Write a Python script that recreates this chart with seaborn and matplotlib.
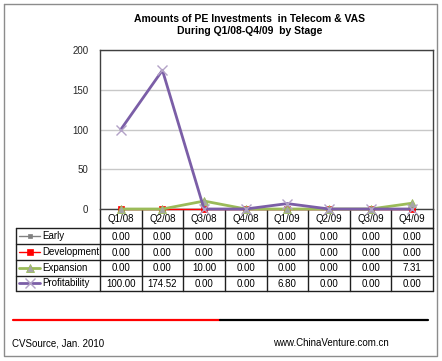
import matplotlib
matplotlib.use("Agg")
import matplotlib.pyplot as plt
import seaborn as sns
import numpy as np
from matplotlib.lines import Line2D

sns.set_theme(style="white")
plt.rcParams['font.family'] = ['Liberation Sans', 'DejaVu Sans']

categories = ["Q1/08", "Q2/08", "Q3/08", "Q4/08", "Q1/09", "Q2/09", "Q3/09", "Q4/09"]
series_names = ["Early", "Development", "Expansion", "Profitability"]
early = [0.00, 0.00, 0.00, 0.00, 0.00, 0.00, 0.00, 0.00]
development = [0.00, 0.00, 0.00, 0.00, 0.00, 0.00, 0.00, 0.00]
expansion = [0.00, 0.00, 10.00, 0.00, 0.00, 0.00, 0.00, 7.31]
profitability = [100.00, 174.52, 0.00, 0.00, 6.80, 0.00, 0.00, 0.00]
yticks = [0, 50, 100, 150, 200]
title = "Amounts of PE Investments  in Telecom & VAS\nDuring Q1/08-Q4/09  by Stage"
source_text = "CVSource, Jan. 2010"
site_text = "www.ChinaVenture.com.cn"

values = [early, development, expansion, profitability]
styles = [
    dict(color="#808080", marker="s", lw=1.0, ms=3.5, mfc="#808080", mec="#808080", mew=0.5),
    dict(color="#FF0000", marker="s", lw=1.0, ms=4, mfc="#FF0000", mec="#FF0000", mew=0.5),
    dict(color="#9BBB59", marker="^", lw=2.0, ms=6, mfc="#A5A5A5", mec="#9BBB59", mew=0.6),
    dict(color="#7B5EA7", marker="x", lw=2.0, ms=6.5, mfc="#B3A2C7", mec="#B3A2C7", mew=1.0),
]

W, H = 442, 361
fig = plt.figure(figsize=(W / 100, H / 100), dpi=100)

# background axes in pixel coordinates
bg = fig.add_axes([0, 0, 1, 1])
bg.set_xlim(0, W)
bg.set_ylim(H, 0)
bg.axis("off")

def px(l, t, r, b):
    return [l / W, 1 - b / H, (r - l) / W, (b - t) / H]

# outer border
bg.add_line(Line2D([4, 437, 437, 4, 4], [4, 4, 356, 356, 4], color="#8C8C8C", lw=1.0))

# title
bg.text(250, 25.5, title, ha="center", va="center", fontsize=7.5, fontweight="bold",
        color="#000000", linespacing=1.25)

# plot area
L, T, R, B = 100, 50, 433, 209
ax = fig.add_axes(px(L, T, R, B))
n = len(categories)
x = np.arange(n)
for name, vals, st in zip(series_names, values, styles):
    sns.lineplot(x=x, y=vals, ax=ax, color=st["color"], lw=st["lw"], marker=st["marker"],
                 ms=st["ms"], mfc=st["mfc"], mec=st["mec"], mew=st["mew"],
                 clip_on=False, legend=False, zorder=3)
ax.set_xlim(-0.5, n - 0.5)
ax.set_ylim(0, 200)
ax.set_yticks(yticks)
ax.set_yticklabels([str(v) for v in yticks], fontsize=7)
ax.set_xticks([])
ax.tick_params(axis="y", length=0, pad=8.5)
ax.grid(axis="y", color="#C8C8C8", lw=1.0)
ax.set_axisbelow(True)
for s in ax.spines.values():
    s.set_color("#404040")
    s.set_linewidth(1.0)
ax.set_xlabel("")
ax.set_ylabel("")

# data table
colw = (R - L) / n
col_edges = [L + k * colw for k in range(n + 1)]
cat_top, cat_bot = B, 228.3
row_edges = [228.3, 244, 260, 275.7, 290.7]
TL = 16
lc = "#202020"
# category row
bg.add_line(Line2D([L, R], [cat_bot, cat_bot], color=lc, lw=1.0))
for xe in col_edges:
    bg.add_line(Line2D([xe, xe], [cat_top, row_edges[-1]], color=lc, lw=1.0))
for yi, ye in enumerate(row_edges):
    bg.add_line(Line2D([TL, R], [ye, ye], color=lc, lw=1.0))
bg.add_line(Line2D([TL, TL], [row_edges[0], row_edges[-1]], color=lc, lw=1.0))
for k, c in enumerate(categories):
    bg.text((col_edges[k] + col_edges[k + 1]) / 2, (cat_top + cat_bot) / 2 + 0.5, c,
            ha="center", va="center", fontsize=7, color="#000000")
for r, (name, vals, st) in enumerate(zip(series_names, values, styles)):
    yc = (row_edges[r] + row_edges[r + 1]) / 2
    bg.add_line(Line2D([19, 40], [yc, yc], color=st["color"], lw=st["lw"]))
    bg.plot([29.5], [yc], marker=st["marker"], ms=st["ms"], mfc=st["mfc"], mec=st["mec"],
            mew=st["mew"], ls="none")
    bg.text(42, yc, name, ha="left", va="center", fontsize=7, color="#000000")
    for k, v in enumerate(vals):
        bg.text((col_edges[k] + col_edges[k + 1]) / 2, yc + 0.5, f"{v:.2f}",
                ha="center", va="center", fontsize=7, color="#000000")

# divider line
bg.add_line(Line2D([13, 220], [320, 320], color="#FF0000", lw=1.6))
bg.add_line(Line2D([220, 428], [320, 320], color="#000000", lw=1.6))

# footer
bg.text(12, 343, source_text, ha="left", va="center", fontsize=7, color="#000000")
bg.text(273, 343, site_text, ha="left", va="center", fontsize=7, color="#000000")

fig.savefig("out.png", dpi=100, facecolor="white")
